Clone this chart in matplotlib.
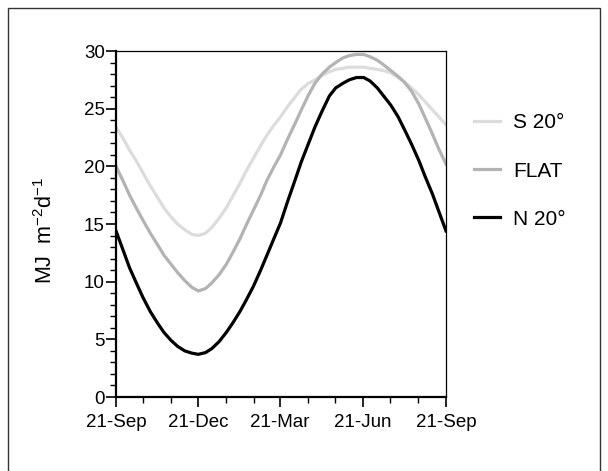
import matplotlib
matplotlib.use('Agg')
import matplotlib.pyplot as plt
from matplotlib.patches import Rectangle

plt.rcParams['font.family'] = ['Liberation Sans', 'DejaVu Sans']
plt.rcParams['mathtext.default'] = 'regular'

# days after 21 September
days = [0, 8, 15, 23, 30, 38, 46, 53, 61, 68, 76, 84, 91, 99, 106, 114, 122,
        129, 137, 144, 152, 160, 167, 175, 182, 190, 198, 205, 213, 220, 228,
        236, 243, 251, 258, 266, 274, 281, 289, 296, 304, 312, 319, 327, 335,
        342, 350, 357, 365]

s20 = [23.4, 22.4, 21.4, 20.4, 19.4, 18.3, 17.3, 16.4, 15.6, 15.0, 14.5, 14.1, 14.0,
       14.2, 14.7, 15.5, 16.4, 17.4, 18.5, 19.6, 20.7, 21.8, 22.7, 23.6, 24.3,
       25.2, 26.0, 26.7, 27.2, 27.5, 27.9, 28.2, 28.4, 28.5, 28.6, 28.6, 28.6,
       28.5, 28.4, 28.3, 28.1, 27.7, 27.3, 26.8, 26.2, 25.6, 24.9, 24.3, 23.6]
flat = [20.0, 18.7, 17.5, 16.3, 15.3, 14.2, 13.2, 12.3, 11.5, 10.8, 10.1, 9.5, 9.2,
        9.4, 9.9, 10.6, 11.5, 12.5, 13.7, 14.9, 16.2, 17.5, 18.8, 20.0, 21.0,
        22.4, 23.7, 24.9, 26.2, 27.2, 28.0, 28.6, 29.0, 29.4, 29.6, 29.7, 29.7,
        29.5, 29.2, 28.8, 28.3, 27.8, 27.3, 26.5, 25.4, 24.2, 22.8, 21.5, 20.2]
n20 = [14.4, 12.7, 11.2, 9.8, 8.6, 7.4, 6.4, 5.6, 4.9, 4.4, 4.0, 3.8, 3.7,
       3.85, 4.2, 4.8, 5.6, 6.4, 7.4, 8.4, 9.6, 11.0, 12.3, 13.8, 15.1,
       17.0, 18.8, 20.4, 22.0, 23.4, 24.8, 26.1, 26.8, 27.2, 27.5, 27.7, 27.7,
       27.4, 26.8, 26.1, 25.3, 24.3, 23.2, 21.9, 20.5, 19.1, 17.6, 16.1, 14.4]

major_days = [0, 91, 181, 273, 365]
major_labels = ['21-Sep', '21-Dec', '21-Mar', '21-Jun', '21-Sep']
minor_days = [30, 61, 122, 153, 212, 242, 303, 334]

fig = plt.figure(figsize=(6.08, 4.71), dpi=100)
ax = fig.add_axes([116/608, 74/471, 330/608, 346/471])

ax.plot(days, s20, color='#dcdcdc', lw=2.3, label='S 20\u00b0')
ax.plot(days, flat, color='#b3b3b3', lw=2.3, label='FLAT')
ax.plot(days, n20, color='black', lw=2.3, label='N 20\u00b0')

ax.set_xlim(0, 365)
ax.set_ylim(0, 30)
ax.set_xticks(major_days)
ax.set_xticklabels(major_labels)
ax.set_xticks(minor_days, minor=True)
ax.set_yticks(range(0, 31, 5))
ax.set_yticks(range(0, 31), minor=True)
ax.tick_params(which='major', length=7, width=1.2, labelsize=13.5, direction='out')
ax.tick_params(which='minor', length=4, width=1.0, direction='out')
ax.tick_params(axis='y', pad=1)
ax.tick_params(axis='x', pad=5)

for side in ['left', 'bottom']:
    ax.spines[side].set_linewidth(1.6)
for side in ['top', 'right']:
    ax.spines[side].set_linewidth(0.9)

ax.set_ylabel(r'MJ  m$^{-2}$d$^{-1}$', fontsize=15.5)
ax.yaxis.set_label_coords(-0.18, 0.48)

ax.legend(loc='upper left', bbox_to_anchor=(464/608, 1 - 103/471),
          bbox_transform=fig.transFigure, frameon=False, fontsize=15,
          handlelength=1.25, handletextpad=0.6, labelspacing=1.4, borderpad=0)

fig.patches.append(Rectangle((8/608, -0.05), 592/608, 1.05 - 8/471,
                             transform=fig.transFigure, fill=False,
                             edgecolor='#333333', lw=1.0))

fig.savefig('out.png', dpi=100)
